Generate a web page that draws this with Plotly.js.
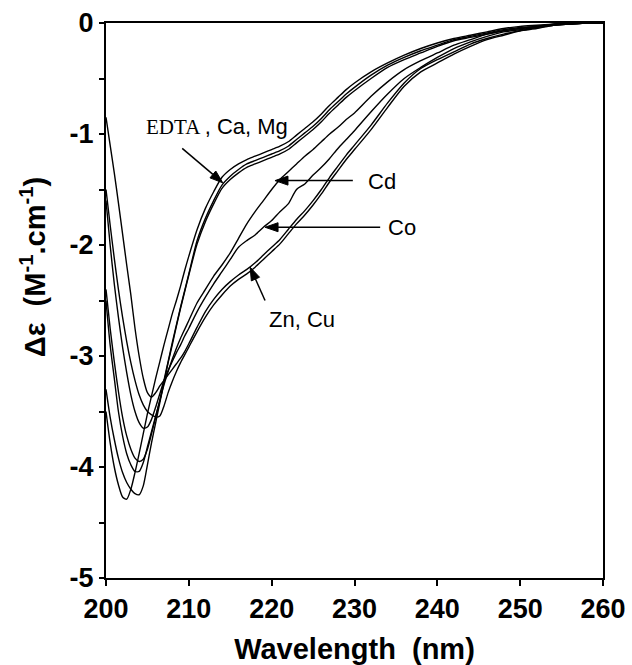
<!DOCTYPE html>
<html>
<head>
<meta charset="utf-8">
<script src="https://cdn.plot.ly/plotly-3.0.1.min.js"></script>
<style>html,body{margin:0;padding:0;background:#fff;}#chart{width:632px;height:665px;}</style>
</head>
<body>
<div id="chart"></div>
<script>
// Wavelength grid (nm)
const wavelength = [200,200.5,201,201.5,202,202.5,203,203.5,204,204.5,205,205.5,206,206.5,207,207.5,208,208.5,209,209.5,210,
  211,212,213,214,215,216,217,218,219,220,221,222,223,224,225,226,227,228,229,230,
  232,234,236,238,240,242,244,246,248,250,252,254,256,258,260];

// Delta epsilon (M-1.cm-1) for each condition
const edta = [-2.5,-2.9,-3.2,-3.5,-3.72,-3.88,-3.98,-4.04,-4.04,-3.96,-3.82,-3.68,-3.54,-3.4,-3.22,-3.05,-2.88,-2.72,-2.56,-2.41,-2.26,
  -1.96,-1.76,-1.6,-1.46,-1.38,-1.32,-1.27,-1.24,-1.21,-1.18,-1.15,-1.11,-1.05,-0.99,-0.93,-0.86,-0.78,-0.71,-0.64,-0.58,
  -0.47,-0.38,-0.31,-0.25,-0.2,-0.15,-0.12,-0.09,-0.06,-0.04,-0.03,-0.01,0,0,0];
const ca = [-3.3,-3.55,-3.75,-3.92,-4.05,-4.14,-4.2,-4.24,-4.25,-4.17,-3.98,-3.78,-3.6,-3.42,-3.24,-3.06,-2.9,-2.73,-2.57,-2.42,-2.27,
  -1.99,-1.79,-1.63,-1.49,-1.41,-1.35,-1.3,-1.27,-1.24,-1.21,-1.18,-1.14,-1.08,-1.02,-0.96,-0.89,-0.81,-0.74,-0.67,-0.61,
  -0.5,-0.4,-0.33,-0.27,-0.21,-0.16,-0.13,-0.1,-0.07,-0.05,-0.03,-0.02,-0.01,0,0];
const mg = [-3.5,-3.78,-4.0,-4.16,-4.27,-4.29,-4.2,-4.05,-3.88,-3.7,-3.52,-3.36,-3.2,-3.05,-2.9,-2.76,-2.62,-2.5,-2.37,-2.23,-2.1,
  -1.86,-1.67,-1.52,-1.39,-1.32,-1.27,-1.23,-1.2,-1.17,-1.14,-1.11,-1.07,-1.01,-0.95,-0.89,-0.82,-0.74,-0.67,-0.6,-0.54,
  -0.44,-0.36,-0.29,-0.23,-0.18,-0.14,-0.11,-0.08,-0.05,-0.03,-0.02,-0.01,0,0,0];
const cd = [-2.4,-2.75,-3.05,-3.32,-3.55,-3.72,-3.84,-3.92,-3.95,-3.93,-3.84,-3.7,-3.55,-3.4,-3.26,-3.14,-3.03,-2.93,-2.84,-2.76,-2.68,
  -2.52,-2.4,-2.28,-2.18,-2.07,-1.94,-1.81,-1.7,-1.6,-1.5,-1.41,-1.34,-1.27,-1.2,-1.14,-1.07,-1.0,-0.94,-0.87,-0.81,
  -0.66,-0.53,-0.42,-0.34,-0.27,-0.2,-0.15,-0.1,-0.07,-0.05,-0.03,-0.01,0,0,0];
const co = [-1.6,-2.0,-2.35,-2.65,-2.92,-3.15,-3.35,-3.5,-3.6,-3.65,-3.64,-3.57,-3.46,-3.34,-3.22,-3.13,-3.05,-2.97,-2.9,-2.82,-2.75,
  -2.6,-2.47,-2.35,-2.24,-2.13,-2.02,-1.96,-1.91,-1.84,-1.78,-1.7,-1.63,-1.5,-1.45,-1.37,-1.3,-1.22,-1.13,-1.05,-0.97,
  -0.8,-0.64,-0.5,-0.4,-0.31,-0.23,-0.17,-0.12,-0.08,-0.06,-0.04,-0.02,-0.01,0,0];
const zn = [-0.85,-1.1,-1.35,-1.62,-1.9,-2.18,-2.45,-2.75,-3.0,-3.2,-3.33,-3.37,-3.33,-3.27,-3.22,-3.17,-3.12,-3.07,-3.02,-2.96,-2.89,
  -2.74,-2.6,-2.49,-2.4,-2.33,-2.27,-2.22,-2.16,-2.09,-2.02,-1.95,-1.86,-1.77,-1.69,-1.6,-1.5,-1.39,-1.29,-1.19,-1.1,
  -0.92,-0.72,-0.54,-0.41,-0.33,-0.26,-0.19,-0.14,-0.1,-0.07,-0.04,-0.02,-0.01,0,0];
const cu = [-1.5,-1.82,-2.12,-2.4,-2.65,-2.87,-3.06,-3.22,-3.35,-3.44,-3.5,-3.53,-3.55,-3.54,-3.45,-3.33,-3.23,-3.14,-3.06,-2.99,-2.92,
  -2.78,-2.65,-2.54,-2.45,-2.37,-2.31,-2.26,-2.2,-2.13,-2.06,-1.99,-1.9,-1.81,-1.73,-1.64,-1.54,-1.43,-1.33,-1.23,-1.14,
  -0.96,-0.76,-0.57,-0.44,-0.36,-0.28,-0.21,-0.15,-0.11,-0.07,-0.05,-0.02,-0.01,0,0];

const seriesNames = ['EDTA','Ca','Mg','Cd','Co','Zn','Cu'];
const seriesValues = [edta, ca, mg, cd, co, zn, cu];

const xTicks = [200,210,220,230,240,250,260];
const yTicks = [0,-1,-2,-3,-4,-5];

const W = 632, H = 665;
const M = {l: 106, r: 29, t: 23, b: 87};
const xRange = [200, 260], yRange = [-5, 0];

const traces = seriesValues.map((vals, i) => ({
  x: wavelength, y: vals, name: seriesNames[i], type: 'scatter', mode: 'lines',
  line: {color: '#000', width: 1.4, shape: 'spline', smoothing: 0.7},
  hoverinfo: 'skip', showlegend: false
}));

// Pointer arrows (tail -> tip) drawn as shapes: a line plus a filled head
const pxPerX = (W - M.l - M.r) / (xRange[1] - xRange[0]);
const pxPerY = (H - M.t - M.b) / (yRange[1] - yRange[0]);
function arrowShapes(tail, tip) {
  const dx = (tip[0] - tail[0]) * pxPerX, dy = (tip[1] - tail[1]) * pxPerY;
  const len = Math.hypot(dx, dy), ux = dx / len, uy = dy / len;
  const L = 13, hw = 4.5;
  const bx = tip[0] * pxPerX - ux * L, by = tip[1] * pxPerY - uy * L;
  const p1 = [(bx - uy * hw) / pxPerX, (by + ux * hw) / pxPerY];
  const p2 = [(bx + uy * hw) / pxPerX, (by - ux * hw) / pxPerY];
  const base = [bx / pxPerX, by / pxPerY];
  return [
    {type: 'line', xref: 'x', yref: 'y', x0: tail[0], y0: tail[1], x1: base[0], y1: base[1],
     line: {color: '#000', width: 1.5}},
    {type: 'path', xref: 'x', yref: 'y',
     path: `M${tip[0]},${tip[1]} L${p1[0]},${p1[1]} L${p2[0]},${p2[1]} Z`,
     fillcolor: '#000', line: {color: '#000', width: 1}}
  ];
}
const shapes = [].concat(
  arrowShapes([209.2, -1.13], [214.1, -1.44]),
  arrowShapes([229.8, -1.42], [220.4, -1.42]),
  arrowShapes([233.1, -1.84], [219.2, -1.84]),
  arrowShapes([219.2, -2.5], [217.4, -2.2])
);

const sans = 'Liberation Sans, Arial, Helvetica, sans-serif';
const labelFont = {family: sans, size: 22, color: '#000'};

const layout = {
  width: W, height: H,
  margin: M,
  paper_bgcolor: '#fff', plot_bgcolor: '#fff',
  showlegend: false,
  xaxis: {
    range: xRange, tickvals: xTicks, ticktext: xTicks.map(String),
    ticks: 'outside', ticklen: 6, tickwidth: 2, tickcolor: '#000',
    showline: true, linewidth: 2, linecolor: '#000', mirror: true,
    showgrid: false, zeroline: false,
    tickfont: {family: sans, size: 27, color: '#000', weight: 'bold'},
    title: {text: 'Wavelength  (nm)', font: {family: sans, size: 29, color: '#000', weight: 'bold'}, standoff: 16}
  },
  yaxis: {
    range: yRange, tickvals: yTicks, ticktext: yTicks.map(String),
    ticks: 'outside', ticklen: 5, tickwidth: 2, tickcolor: '#000',
    minor: {dtick: 0.5, ticks: 'outside', ticklen: 5, tickwidth: 2, tickcolor: '#000', showgrid: false},
    showline: true, linewidth: 2, linecolor: '#000', mirror: true,
    showgrid: false, zeroline: false,
    tickfont: {family: sans, size: 27, color: '#000', weight: 'bold'}
  },
  shapes: shapes,
  annotations: [
    {xref: 'paper', yref: 'paper', x: -0.147, y: 0.56, text: 'Δε  (M<sup>-1</sup>.cm<sup>-1</sup>)',
     textangle: -90, showarrow: false, xanchor: 'center', yanchor: 'middle',
     font: {family: sans, size: 29, color: '#000', weight: 'bold'}},
    {x: 213.35, y: -0.93, text: '<span style="font-family:Liberation Serif, Times New Roman, serif;font-size:21px">EDTA</span>\u2009, Ca, Mg',
     showarrow: false, font: labelFont},
    {x: 233.3, y: -1.43, text: 'Cd', showarrow: false, font: labelFont},
    {x: 235.7, y: -1.84, text: 'Co', showarrow: false, font: labelFont},
    {x: 223.7, y: -2.67, text: 'Zn, Cu', showarrow: false, font: labelFont}
  ]
};

Plotly.newPlot('chart', traces, layout, {displayModeBar: false, staticPlot: true});
</script>
</body>
</html>
